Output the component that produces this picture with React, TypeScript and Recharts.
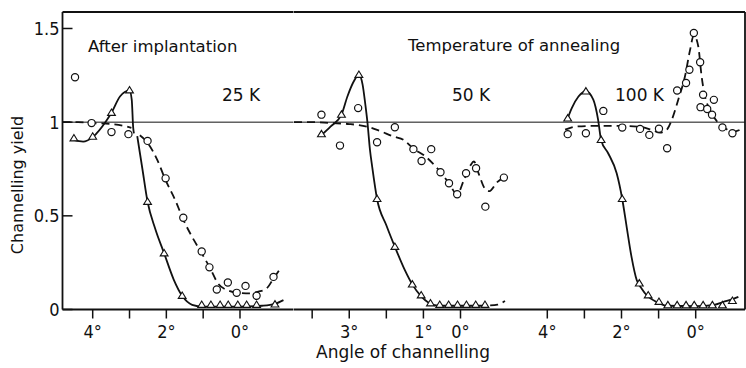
import { ComposedChart, Line, Scatter, XAxis, YAxis, ReferenceLine } from 'recharts'

const INK = '#111'
const TICK_FONT = '"DejaVu Sans Condensed", "DejaVu Sans", sans-serif'
const TEXT_FONT = '"DejaVu Sans", sans-serif'

const ANGLE_TICKS = [4, 3, 2, 1, 0]
const Y_MAX = 1.588

// each row: [angle of channelling (deg), channelling yield]

// 25 K, after implantation
const implCircles = [
  [4.48, 1.24], [4.03, 0.995], [3.49, 0.947], [3.03, 0.936], [2.51, 0.9], [2.02, 0.7],
  [1.54, 0.49], [1.04, 0.31], [0.83, 0.225], [0.63, 0.107], [0.33, 0.144], [0.09, 0.089],
  [-0.15, 0.126], [-0.45, 0.073], [-0.91, 0.174],
]
const implTriangles = [
  [4.51, 0.914], [4.0, 0.923], [3.49, 1.05], [3.0, 1.17], [2.51, 0.575], [2.06, 0.3],
  [1.57, 0.073], [1.04, 0.025], [0.79, 0.025], [0.54, 0.025], [0.32, 0.025], [0.06, 0.025],
  [-0.18, 0.025], [-0.45, 0.025], [-0.95, 0.027],
]
const implSolidA = [
  [4.52, 0.905], [4.26, 0.896], [4.0, 0.92], [3.62, 1.01], [3.49, 1.05], [3.26, 1.137],
  [3.0, 1.17], [2.94, 1.12], [2.9, 0.97], [2.88, 0.94],
]
const implSolidB = [
  [2.79, 0.925], [2.65, 0.75], [2.51, 0.575], [2.3, 0.43], [2.06, 0.3], [1.8, 0.16],
  [1.57, 0.073], [1.3, 0.025], [1.0, 0.015], [0.0, 0.015], [-0.6, 0.02], [-0.95, 0.03], [-1.18, 0.05],
]
const implDashedA = [[4.82, 1.0], [4.4, 1.0], [4.0, 0.995], [3.5, 0.99], [3.1, 0.978], [2.95, 0.97]]
const implDashedB = [
  [2.72, 0.93], [2.51, 0.89], [2.25, 0.8], [2.02, 0.69], [1.75, 0.58], [1.54, 0.48],
  [1.25, 0.37], [1.04, 0.3], [0.81, 0.22], [0.6, 0.14], [0.3, 0.1], [0.0, 0.088],
  [-0.27, 0.086], [-0.5, 0.095], [-0.72, 0.112], [-0.91, 0.165], [-1.13, 0.228],
]

// 50 K
const k50Circles = [
  [3.75, 1.04], [3.25, 0.875], [2.76, 1.075], [2.25, 0.893], [1.77, 0.973], [1.27, 0.856],
  [1.05, 0.793], [0.79, 0.856], [0.54, 0.733], [0.31, 0.674], [0.09, 0.615], [-0.15, 0.727],
  [-0.42, 0.754], [-0.67, 0.549], [-1.17, 0.704],
]
const k50Triangles = [
  [3.75, 0.936], [3.21, 1.04], [2.74, 1.253], [2.25, 0.59], [1.77, 0.335], [1.3, 0.134],
  [1.06, 0.076], [0.81, 0.033], [0.56, 0.025], [0.32, 0.025], [0.08, 0.025], [-0.16, 0.025],
  [-0.41, 0.025], [-0.66, 0.025],
]
const k50Solid = [
  [3.78, 0.925], [3.5, 0.977], [3.21, 1.04], [3.05, 1.137], [2.88, 1.217], [2.74, 1.253],
  [2.64, 1.2], [2.57, 1.1], [2.51, 1.0], [2.44, 0.85], [2.38, 0.76], [2.25, 0.59],
  [2.0, 0.45], [1.77, 0.335], [1.5, 0.21], [1.3, 0.134], [1.06, 0.07], [0.85, 0.035],
  [0.6, 0.02], [0.0, 0.02], [-0.72, 0.02],
]
const k50SolidTail = [[-0.8, 0.022], [-1.0, 0.026], [-1.2, 0.045]]
const k50Dashed = [
  [4.49, 1.0], [4.0, 1.0], [3.5, 0.995], [3.0, 0.99], [2.5, 0.975], [2.2, 0.955],
  [1.8, 0.923], [1.53, 0.905], [1.28, 0.86], [0.94, 0.816], [0.67, 0.763], [0.54, 0.733],
  [0.31, 0.674], [0.09, 0.615], [-0.09, 0.69], [-0.27, 0.77], [-0.36, 0.79], [-0.5, 0.72],
  [-0.65, 0.648], [-0.78, 0.632], [-0.99, 0.68], [-1.17, 0.704],
]

// 100 K
const k100Circles = [
  [3.45, 0.936], [2.96, 0.941], [2.49, 1.06], [1.98, 0.971], [1.5, 0.964], [1.25, 0.932],
  [0.99, 0.965], [0.77, 0.861], [0.5, 1.169], [0.26, 1.209], [0.17, 1.28], [0.05, 1.476],
  [-0.12, 1.32], [-0.2, 1.146], [-0.13, 1.08], [-0.31, 1.07], [-0.49, 1.119], [-0.44, 1.04],
  [-0.72, 0.972], [-0.99, 0.941],
]
const k100Triangles = [
  [3.45, 1.02], [2.96, 1.164], [2.55, 0.905], [1.98, 0.59], [1.52, 0.139], [1.28, 0.076],
  [0.99, 0.041], [0.75, 0.023], [0.5, 0.023], [0.26, 0.023], [0.04, 0.023], [-0.2, 0.023],
  [-0.45, 0.023], [-0.72, 0.023], [-0.99, 0.046],
]
const k100Solid = [
  [3.47, 1.01], [3.34, 1.075], [3.16, 1.137], [2.96, 1.165], [2.76, 1.12], [2.63, 1.012],
  [2.55, 0.905], [2.36, 0.834], [2.13, 0.727], [1.98, 0.59], [1.86, 0.44], [1.73, 0.281],
  [1.59, 0.157], [1.45, 0.11], [1.32, 0.076], [1.05, 0.04], [0.77, 0.02], [0.0, 0.018],
  [-0.5, 0.025], [-0.74, 0.04], [-1.0, 0.055], [-1.15, 0.067],
]
const k100Dashed = [
  [3.52, 0.96], [3.21, 0.977], [2.7, 0.98], [2.0, 0.98], [1.5, 0.975], [1.2, 0.96],
  [0.96, 0.944], [0.78, 0.96], [0.65, 1.01], [0.47, 1.12], [0.29, 1.244], [0.15, 1.387],
  [0.05, 1.465], [-0.07, 1.404], [-0.16, 1.244], [-0.25, 1.137], [-0.39, 1.066],
  [-0.61, 0.995], [-0.79, 0.968], [-0.99, 0.948], [-1.28, 0.968],
]

const toPts = (rows: number[][]) => rows.map(([a, v]) => ({ a, v }))

const CircleMark = (p: any) => (
  <circle cx={p.cx} cy={p.cy} r={3.6} fill="#fff" stroke={INK} strokeWidth={1.2} />
)
const TriangleMark = (p: any) => (
  <path
    d={`M${p.cx},${p.cy - 3.8}L${p.cx + 3.9},${p.cy + 2.6}L${p.cx - 3.9},${p.cy + 2.6}Z`}
    fill="#fff"
    stroke={INK}
    strokeWidth={1.1}
  />
)

const TICK_MARGIN = 3
const YTick = ({ x, y, payload, showLabel }: any) => (
  <g>
    <line x1={x + TICK_MARGIN} x2={x + TICK_MARGIN + 10} y1={y} y2={y} stroke={INK} strokeWidth={1.5} />
    {showLabel && (
      <text x={x} y={y} textAnchor="end" dominantBaseline="central" fill={INK} fontSize={18} fontFamily={TICK_FONT}>
        {payload.value}
      </text>
    )}
  </g>
)

type PanelProps = {
  left: number
  width: number
  yAxisWidth: number
  rightMargin: number
  domain: [number, number]
  tickLabels: string[]
  yTicks: number[]
  yLabels: boolean
  rightBorder?: boolean
  circles: number[][]
  triangles: number[][]
  solid: number[][][]
  dashed: number[][][]
}

function Panel(props: PanelProps) {
  const { left, width, yAxisWidth, rightMargin, domain, tickLabels, yTicks, yLabels } = props
  return (
    <div style={{ position: 'absolute', left, top: 0 }}>
      <ComposedChart width={width} height={368} margin={{ top: 12, right: rightMargin, bottom: 28.5, left: 0 }}>
        <XAxis
          dataKey="a"
          type="number"
          domain={domain}
          reversed
          ticks={ANGLE_TICKS}
          interval={0}
          height={30}
          tickFormatter={(t: number) => tickLabels[ANGLE_TICKS.indexOf(t)] ?? ''}
          tickSize={9}
          tickMargin={7}
          tick={{ fill: INK, fontSize: 18, fontFamily: TICK_FONT }}
          axisLine={{ stroke: INK, strokeWidth: 1.8 }}
          tickLine={{ stroke: INK, strokeWidth: 1.5 }}
        />
        <YAxis
          dataKey="v"
          type="number"
          domain={[0, Y_MAX]}
          ticks={yTicks}
          interval={0}
          width={yAxisWidth}
          tickSize={0}
          tickMargin={TICK_MARGIN}
          tickLine={false}
          tick={<YTick showLabel={yLabels} />}
          axisLine={{ stroke: INK, strokeWidth: 1.8 }}
        />
        <ReferenceLine y={1} stroke={INK} strokeWidth={1} />
        <ReferenceLine y={Y_MAX} stroke={INK} strokeWidth={1.8} />
        {props.rightBorder && <ReferenceLine x={domain[0]} stroke={INK} strokeWidth={1.8} />}
        {props.solid.map((rows, i) => (
          <Line
            key={`s${i}`}
            data={toPts(rows)}
            dataKey="v"
            type="monotone"
            stroke={INK}
            strokeWidth={1.8}
            dot={false}
            activeDot={false}
            isAnimationActive={false}
          />
        ))}
        {props.dashed.map((rows, i) => (
          <Line
            key={`d${i}`}
            data={toPts(rows)}
            dataKey="v"
            type="monotone"
            stroke={INK}
            strokeWidth={1.8}
            strokeDasharray="8 5"
            dot={false}
            activeDot={false}
            isAnimationActive={false}
          />
        ))}
        <Scatter data={toPts(props.triangles)} dataKey="v" shape={TriangleMark} isAnimationActive={false} />
        <Scatter data={toPts(props.circles)} dataKey="v" shape={CircleMark} isAnimationActive={false} />
      </ComposedChart>
    </div>
  )
}

const label = (text: string, x: number, y: number, extra: any = {}) => (
  <div
    style={{
      position: 'absolute',
      left: x,
      top: y,
      transform: 'translateY(-50%)',
      fontSize: 16.5,
      lineHeight: 1,
      whiteSpace: 'nowrap',
      color: INK,
      ...extra,
    }}
  >
    {text}
  </div>
)

export default function App() {
  return (
    <div
      style={{
        position: 'absolute',
        left: 0,
        top: 0,
        width: 746,
        height: 368,
        background: '#fff',
        fontFamily: TEXT_FONT,
        overflow: 'hidden',
      }}
    >
      <Panel
        left={0}
        width={293.5}
        yAxisWidth={62.5}
        rightMargin={0}
        domain={[-1.453, 4.82]}
        tickLabels={['4°', '', '2°', '', '0°']}
        yTicks={[0, 0.5, 1, 1.5]}
        yLabels
        circles={implCircles}
        triangles={implTriangles}
        solid={[implSolidA, implSolidB]}
        dashed={[implDashedA, implDashedB]}
      />
      <Panel
        left={293.5}
        width={230.5}
        yAxisWidth={0}
        rightMargin={0}
        domain={[-1.726, 4.49]}
        tickLabels={['', '3°', '', '1°', '0°']}
        yTicks={[0.5]}
        yLabels={false}
        circles={k50Circles}
        triangles={k50Triangles}
        solid={[k50Solid]}
        dashed={[k50Dashed, k50SolidTail]}
      />
      <Panel
        left={524}
        width={222}
        yAxisWidth={0}
        rightMargin={1}
        domain={[-1.329, 4.628]}
        tickLabels={['4°', '', '2°', '', '0°']}
        yTicks={[0.5]}
        yLabels={false}
        rightBorder
        circles={k100Circles}
        triangles={k100Triangles}
        solid={[k100Solid]}
        dashed={[k100Dashed]}
      />
      {label('After implantation', 88, 47)}
      {label('25 K', 222, 95, { fontSize: 17 })}
      {label('Temperature of annealing', 408, 46)}
      {label('50 K', 452, 95, { fontSize: 17 })}
      {label('100 K', 615, 95, { fontSize: 17 })}
      {label('Angle of channelling', 403, 352, { fontSize: 17, transform: 'translate(-50%, -50%)' })}
      {label('Channelling yield', 18, 185, { fontSize: 16, transform: 'translate(-50%, -50%) rotate(-90deg)' })}
    </div>
  )
}
